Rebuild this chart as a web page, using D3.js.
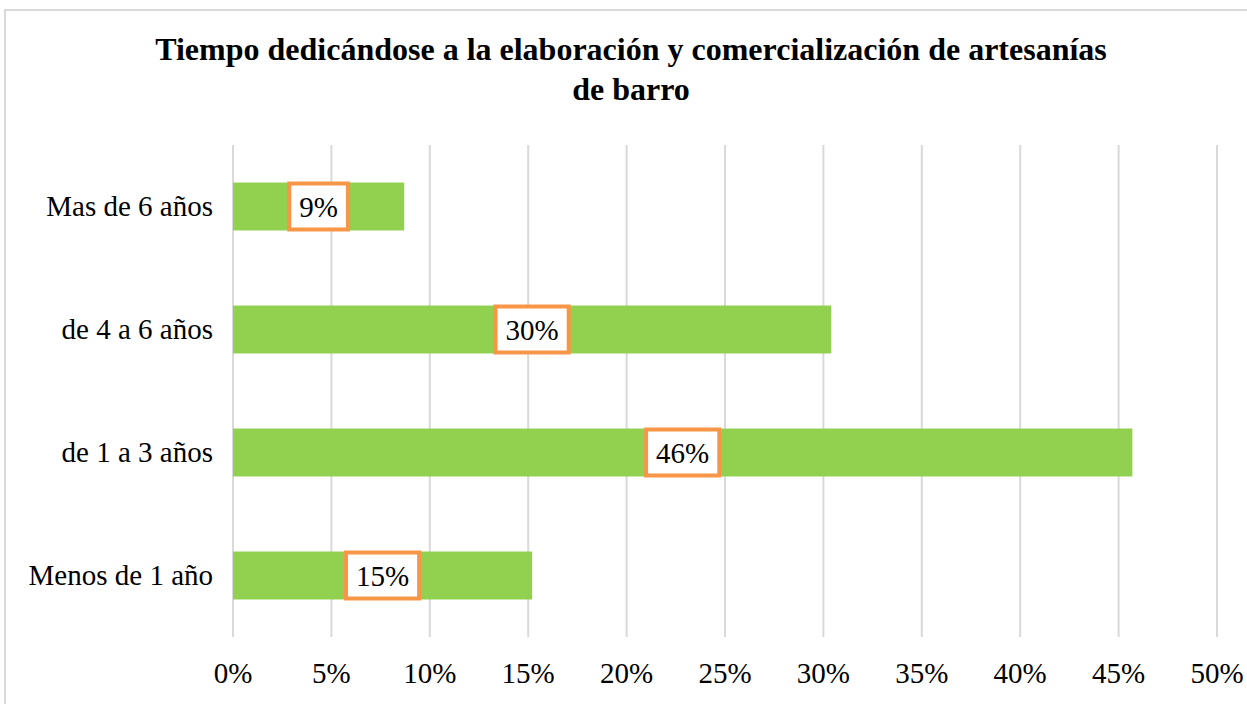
<!DOCTYPE html>
<html><head><meta charset="utf-8">
<script src="https://cdn.jsdelivr.net/npm/d3@7"></script>
<style>body{margin:0;background:#fff}svg{display:block}</style>
</head><body>
<svg id="c" width="1247" height="704"></svg>
<script>
const categories = ["Mas de 6 años","de 4 a 6 años","de 1 a 3 años","Menos de 1 año"];
const values = [8.7, 30.4, 45.7, 15.2];
const valueLabels = ["9%","30%","46%","15%"];
const tickValues = [0,5,10,15,20,25,30,35,40,45,50];
const titleLines = ["Tiempo dedicándose a la elaboración y comercialización de artesanías","de barro"];

(function(){
const svg = d3.select("#c");
const font = "'Liberation Serif','Times New Roman',serif";
const pLeft = 233, pRight = 1217, pTop = 145, pBottom = 637;

svg.append("path").attr("d","M5,704 V10 H1247").attr("fill","none").attr("stroke","#d9d9d9").attr("stroke-width",2);

svg.selectAll("text.title").data(titleLines).enter().append("text")
  .attr("x",631).attr("y",(d,i)=>60+i*40).attr("text-anchor","middle")
  .attr("font-family",font).attr("font-weight","bold").attr("font-size",32).attr("fill","#000").text(d=>d);

const x = d3.scaleLinear().domain([0,50]).range([pLeft,pRight]);
const y = d3.scaleBand().domain(categories).range([pTop,pBottom]).paddingInner(0.61).paddingOuter(0.305);

svg.append("g").selectAll("line").data(tickValues).enter().append("line")
  .attr("x1",d=>x(d)).attr("x2",d=>x(d)).attr("y1",pTop).attr("y2",pBottom)
  .attr("stroke","#d9d9d9").attr("stroke-width",2);

svg.append("g").selectAll("text").data(tickValues).enter().append("text")
  .attr("x",d=>x(d)).attr("y",683).attr("text-anchor","middle")
  .attr("font-family",font).attr("font-size",29).attr("fill","#000").text(d=>d+"%");

svg.append("g").selectAll("text").data(categories).enter().append("text")
  .attr("x",213).attr("y",d=>y(d)+y.bandwidth()/2+9).attr("text-anchor","end")
  .attr("font-family",font).attr("font-size",29).attr("fill","#000").text(d=>d);

svg.append("g").selectAll("rect").data(values).enter().append("rect")
  .attr("x",x(0)).attr("y",(d,i)=>y(categories[i])).attr("width",d=>x(d)-x(0)).attr("height",y.bandwidth())
  .attr("fill","#92D050");

const lg = svg.append("g").selectAll("g").data(values).enter().append("g")
  .attr("transform",(d,i)=>`translate(${x(d/2)},${y(categories[i])+y.bandwidth()/2})`);
lg.each(function(d,i){
  const g = d3.select(this);
  const t = g.append("text").attr("text-anchor","middle").attr("y",10)
    .attr("font-family",font).attr("font-size",29).attr("fill","#000").text(valueLabels[i]);
  const w = t.node().getComputedTextLength() + 20;
  const h = y.bandwidth()-2;
  g.insert("rect","text").attr("x",-w/2).attr("y",-h/2).attr("width",w).attr("height",h)
    .attr("fill","#fff").attr("stroke","#F79646").attr("stroke-width",4);
});
})();
</script>
</body></html>
